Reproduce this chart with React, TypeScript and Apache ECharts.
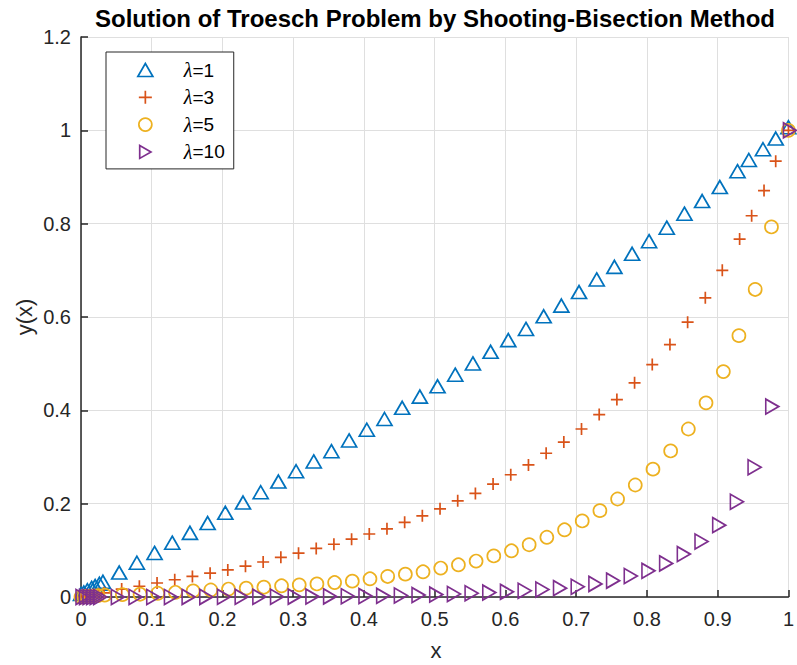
import React, { useEffect, useRef } from "react";
import * as echarts from "echarts";

const xTickLabels = ["0", "0.1", "0.2", "0.3", "0.4", "0.5", "0.6", "0.7", "0.8", "0.9", "1"];
const yTickLabels = ["0", "0.2", "0.4", "0.6", "0.8", "1", "1.2"];

const seriesNames = ["λ=1", "λ=3", "λ=5", "λ=10"];

const blueX = [0, 0.004, 0.009, 0.015, 0.02, 0.026, 0.031, 0.054, 0.079, 0.104, 0.129, 0.154, 0.179, 0.204, 0.229, 0.254, 0.279, 0.304, 0.329, 0.354, 0.379, 0.404, 0.429, 0.454, 0.479, 0.504, 0.529, 0.554, 0.579, 0.604, 0.629, 0.654, 0.679, 0.704, 0.729, 0.754, 0.779, 0.803, 0.828, 0.853, 0.878, 0.903, 0.928, 0.944, 0.964, 0.982, 1.0];
const blueY = [0, 0.003, 0.008, 0.013, 0.017, 0.022, 0.026, 0.046, 0.067, 0.088, 0.11, 0.131, 0.152, 0.174, 0.196, 0.218, 0.241, 0.263, 0.284, 0.306, 0.329, 0.352, 0.375, 0.399, 0.423, 0.445, 0.47, 0.494, 0.519, 0.544, 0.568, 0.595, 0.618, 0.647, 0.674, 0.701, 0.729, 0.756, 0.785, 0.815, 0.842, 0.872, 0.906, 0.93, 0.953, 0.976, 1.0];

const orangeX = [0, 0.006, 0.012, 0.018, 0.025, 0.0325, 0.0575, 0.0825, 0.1075, 0.1325, 0.1575, 0.1825, 0.2075, 0.2325, 0.2575, 0.2825, 0.3075, 0.3325, 0.3575, 0.3825, 0.4075, 0.4325, 0.4575, 0.4825, 0.5075, 0.5325, 0.5575, 0.5825, 0.6075, 0.6325, 0.6575, 0.6825, 0.7075, 0.7325, 0.7575, 0.7825, 0.8075, 0.8325, 0.8575, 0.8825, 0.9065, 0.931, 0.948, 0.9655, 0.982, 1.0];
const orangeY = [0, 0.002, 0.003, 0.005, 0.007, 0.009, 0.017, 0.023, 0.03, 0.037, 0.044, 0.051, 0.058, 0.066, 0.075, 0.085, 0.094, 0.104, 0.113, 0.124, 0.135, 0.146, 0.16, 0.174, 0.189, 0.206, 0.222, 0.242, 0.262, 0.283, 0.308, 0.332, 0.36, 0.391, 0.423, 0.459, 0.498, 0.541, 0.589, 0.641, 0.7, 0.767, 0.817, 0.871, 0.934, 1.0];

const yellowX = [0, 0.004, 0.008, 0.013, 0.018, 0.024, 0.0335, 0.0585, 0.0835, 0.1085, 0.1335, 0.1585, 0.1835, 0.2085, 0.2335, 0.2585, 0.2835, 0.3085, 0.3335, 0.3585, 0.3835, 0.4085, 0.4335, 0.4585, 0.4835, 0.5085, 0.5335, 0.5585, 0.5835, 0.6085, 0.6335, 0.6585, 0.6835, 0.7085, 0.7335, 0.7585, 0.7835, 0.8085, 0.8335, 0.8585, 0.8835, 0.908, 0.93, 0.953, 0.976, 1.0];
const yellowY = [0, 0.0005, 0.001, 0.0015, 0.002, 0.003, 0.004, 0.005, 0.006, 0.008, 0.01, 0.013, 0.015, 0.017, 0.019, 0.021, 0.024, 0.026, 0.028, 0.031, 0.034, 0.039, 0.044, 0.049, 0.054, 0.062, 0.069, 0.077, 0.088, 0.099, 0.112, 0.128, 0.144, 0.163, 0.185, 0.21, 0.24, 0.274, 0.313, 0.36, 0.416, 0.483, 0.56, 0.659, 0.793, 1.0];

const purpleX = [0, 0.005, 0.01, 0.015, 0.02, 0.025, 0.05, 0.075, 0.1, 0.125, 0.15, 0.175, 0.2, 0.225, 0.25, 0.275, 0.3, 0.325, 0.35, 0.375, 0.4, 0.425, 0.45, 0.475, 0.5, 0.525, 0.55, 0.575, 0.6, 0.625, 0.65, 0.675, 0.7, 0.725, 0.75, 0.775, 0.8, 0.825, 0.85, 0.875, 0.9, 0.925, 0.95, 0.975, 1.0];
const purpleY = [0, 0, 0, 0, 0, 0, 0, 0.0001, 0.0001, 0.0001, 0.0002, 0.0002, 0.0003, 0.0003, 0.0004, 0.0006, 0.0007, 0.0009, 0.0012, 0.0015, 0.002, 0.0025, 0.0032, 0.0041, 0.0052, 0.0065, 0.008, 0.0095, 0.011, 0.0135, 0.016, 0.019, 0.022, 0.028, 0.035, 0.045, 0.056, 0.072, 0.092, 0.119, 0.154, 0.204, 0.278, 0.408, 1.0];

const zip = (xs: number[], ys: number[]) => xs.map((x, i) => [x, ys[i]]);

const PLUS = "path://M6,0V12M0,6H12";
const RTRI = "path://M0,0L13,7.5L0,15Z";
const FONT = "Liberation Sans";
const DARK = "#262626";

export default function App() {
  const ref = useRef<HTMLDivElement>(null);
  useEffect(() => {
    if (!ref.current) return;
    const chart = echarts.init(ref.current, null, { renderer: "svg" });
    const hollow = (c: string) => ({ color: "rgba(0,0,0,0)", borderColor: c, borderWidth: 1.7, opacity: 1 });
    const axisCommon = {
      type: "value",
      axisLine: { show: true, onZero: false, lineStyle: { color: DARK, width: 1.5 } },
      axisTick: { show: true, inside: true, length: 7, lineStyle: { color: DARK, width: 1.5 } },
      splitLine: { show: true, lineStyle: { color: "#dfdfdf", width: 1 } },
    };
    chart.setOption({
      animation: false,
      backgroundColor: "#fff",
      grid: { left: 81, right: 6, top: 37, bottom: 68 },
      xAxis: {
        ...axisCommon,
        min: 0,
        max: 1,
        interval: 0.1,
        axisLabel: {
          color: DARK,
          fontSize: 20,
          fontFamily: FONT,
          margin: 12,
          formatter: (v: number) => xTickLabels[Math.round(v * 10)],
        },
      },
      yAxis: {
        ...axisCommon,
        min: 0,
        max: 1.2,
        interval: 0.2,
        axisLabel: {
          color: DARK,
          fontSize: 20,
          fontFamily: FONT,
          margin: 10,
          formatter: (v: number) => yTickLabels[Math.round(v * 5)],
        },
      },
      legend: {
        orient: "vertical",
        left: 106,
        top: 52,
        padding: [8, 9, 7, 31],
        itemGap: 7.3,
        itemWidth: 15,
        itemHeight: 13,
        selectedMode: false,
        backgroundColor: "#fff",
        borderColor: DARK,
        borderWidth: 1,
        borderRadius: 0,
        textStyle: {
          color: "#000",
          fontSize: 19,
          lineHeight: 19,
          fontFamily: FONT,
          padding: [0, 0, 0, 26],
          rich: {
            l: { fontFamily: "Liberation Serif", fontStyle: "italic", fontSize: 20, lineHeight: 19, color: "#000" },
            r: { fontFamily: FONT, fontSize: 19, lineHeight: 19, color: "#000" },
          },
        },
        formatter: (name: string) => "{l|λ}{r|" + name.slice(1) + "}",
        data: [
          { name: seriesNames[0], icon: "triangle", itemStyle: hollow("#0072BD") },
          { name: seriesNames[1], icon: PLUS, itemStyle: hollow("#D95319") },
          { name: seriesNames[2], icon: "circle", itemStyle: hollow("#EDB120") },
          { name: seriesNames[3], icon: RTRI, itemStyle: hollow("#7E2F8E") },
        ],
      },
      graphic: [
        {
          type: "text",
          x: 435,
          y: 18,
          style: {
            text: "Solution of Troesch Problem by Shooting-Bisection Method",
            font: "bold 24px " + FONT,
            fill: "#000",
            align: "center",
            verticalAlign: "middle",
          },
        },
        {
          type: "text",
          x: 436,
          y: 650.5,
          style: { text: "x", font: "22px " + FONT, fill: DARK, align: "center", verticalAlign: "middle" },
        },
        {
          type: "text",
          x: 24,
          y: 317,
          rotation: Math.PI / 2,
          style: { text: "y(x)", font: "22px " + FONT, fill: DARK, align: "center", verticalAlign: "middle" },
        },
      ],
      series: [
        {
          type: "scatter",
          name: seriesNames[0],
          data: zip(blueX, blueY),
          symbol: "triangle",
          symbolSize: [15, 13],
          symbolOffset: [0, -3],
          itemStyle: hollow("#0072BD"),
          emphasis: { disabled: true },
        },
        {
          type: "scatter",
          name: seriesNames[1],
          data: zip(orangeX, orangeY),
          symbol: PLUS,
          symbolSize: 12,
          itemStyle: hollow("#D95319"),
          emphasis: { disabled: true },
        },
        {
          type: "scatter",
          name: seriesNames[2],
          data: zip(yellowX, yellowY),
          symbol: "circle",
          symbolSize: 13,
          itemStyle: hollow("#EDB120"),
          emphasis: { disabled: true },
        },
        {
          type: "scatter",
          name: seriesNames[3],
          data: zip(purpleX, purpleY),
          symbol: RTRI,
          symbolSize: [13, 15],
          symbolOffset: [1.5, 0],
          itemStyle: hollow("#7E2F8E"),
          emphasis: { disabled: true },
        },
      ],
    });
    return () => chart.dispose();
  }, []);
  return <div ref={ref} style={{ position: "absolute", left: 0, top: 0, width: 797, height: 665 }} />;
}
